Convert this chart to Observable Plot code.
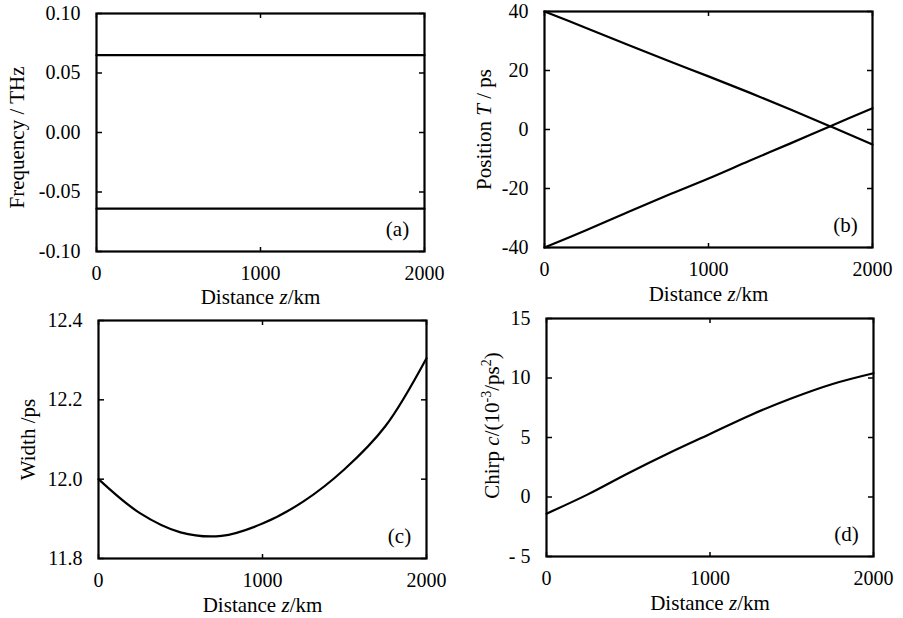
<!DOCTYPE html>
<html><head><meta charset="utf-8">
<script src="https://cdn.jsdelivr.net/npm/d3@7"></script>
<script src="https://cdn.jsdelivr.net/npm/@observablehq/plot@0.6"></script>
<style>
html,body{margin:0;padding:0;background:#fff;}
#chart{position:relative;width:903px;height:618px;overflow:hidden;background:#fff;}
#chart svg{position:absolute;left:0;top:0;}
#chart svg text{font-family:'Liberation Serif','Times New Roman',serif !important;font-variant-numeric:normal !important;}
</style></head><body><div id="chart"></div>
<script>
// ---- data ----
const distanceKm = [0, 250, 500, 750, 1000, 1250, 1500, 1750, 2000];
const frequencyUpper = [0.065, 0.065, 0.065, 0.065, 0.065, 0.065, 0.065, 0.065, 0.065];
const frequencyLower = [-0.064, -0.064, -0.064, -0.064, -0.064, -0.064, -0.064, -0.064, -0.064];
const positionUpper = [40, 34.5, 28.9, 23.4, 18.0, 12.5, 6.8, 0.9, -5.1];
const positionLower = [-40, -34.2, -28.2, -22.3, -16.6, -10.6, -4.7, 1.3, 7.2];
const widthPs = [12.0, 11.915, 11.866, 11.857, 11.888, 11.944, 12.025, 12.134, 12.305];
const chirpValues = [-1.4, 0.2, 2.0, 3.7, 5.3, 6.9, 8.3, 9.5, 10.4];

const distanceTicks = [0, 1000, 2000];
const distanceTickLabels = ["0", "1000", "2000"];
const frequencyTicks = [-0.10, -0.05, 0, 0.05, 0.10];
const frequencyTickLabels = ["-0.10", "-0.05", "0.00", "0.05", "0.10"];
const positionTicks = [-40, -20, 0, 20, 40];
const positionTickLabels = ["-40", "-20", "0", "20", "40"];
const widthTicks = [11.8, 12.0, 12.2, 12.4];
const widthTickLabels = ["11.8", "12.0", "12.2", "12.4"];
const chirpTicks = [-5, 0, 5, 10, 15];
const chirpTickLabels = ["- 5", "0", "5", "10", "15"];

const xLabel = "Distance z/km";
const panelLabels = ["(a)", "(b)", "(c)", "(d)"];
const yLabels = ["Frequency / THz", "Position T / ps", "Width /ps", "Chirp c/(10⁻³/ps²)"];

const richText = {
  "Distance z/km": 'Distance <tspan font-style="italic">z</tspan>/km',
  "Position T / ps": 'Position <tspan font-style="italic">T</tspan> / ps',
  "Chirp c/(10⁻³/ps²)": 'Chirp <tspan font-style="italic">c</tspan>/(10<tspan dy="-8" font-size="14">-3</tspan><tspan dy="8">/ps</tspan><tspan dy="-8" font-size="14">2</tspan><tspan dy="8">)</tspan>'
};

const W = 903, H = 618;
const SERIF = "'Liberation Serif', 'Times New Roman', serif";
const toRows = vals => distanceKm.map((z, i) => ({z, v: vals[i]}));

function panel({frame, yDomain, yTicks, yTickLabels, series, yLabel, yLabelOffset, yLabelShift, xLabelOffset, tag}) {
  const [x0, y0, x1, y1] = frame;
  const fmtY = d => yTickLabels[yTicks.indexOf(d)];
  const fmtX = d => distanceTickLabels[distanceTicks.indexOf(d)];
  const svg = Plot.plot({
    width: W, height: H,
    marginLeft: x0, marginRight: W - x1, marginTop: y0, marginBottom: H - y1,
    style: {background: "transparent", fontFamily: SERIF, fontSize: "21px", color: "black"},
    x: {domain: [0, 2000]},
    y: {domain: yDomain},
    marks: [
      ...series.map(s => Plot.line(toRows(s), {x: "z", y: "v", stroke: "black", strokeWidth: 2.2, curve: "catmull-rom"})),
      Plot.frame({stroke: "black", strokeWidth: 2.2}),
      Plot.axisY(yTicks, {anchor: "left", tickSize: 0, tickPadding: 16, tickFormat: fmtY, label: null, fontFamily: SERIF, fontSize: 20}),
      Plot.axisY(yTicks, {anchor: "right", frameAnchor: "left", tickSize: 5, strokeWidth: 1.5, fill: "none", label: null}),
      Plot.axisY(yTicks, {anchor: "left", frameAnchor: "right", tickSize: 5, strokeWidth: 1.5, fill: "none", label: null}),
      Plot.axisX(distanceTicks, {anchor: "bottom", tickSize: 0, tickPadding: 14, tickFormat: fmtX, label: null, fontFamily: SERIF, fontSize: 20}),
      Plot.axisX(distanceTicks, {anchor: "top", frameAnchor: "bottom", tickSize: 5, strokeWidth: 1.5, fill: "none", label: null}),
      Plot.axisX(distanceTicks, {anchor: "bottom", frameAnchor: "top", tickSize: 5, strokeWidth: 1.5, fill: "none", label: null}),
      Plot.text([yLabel], {text: d => d, frameAnchor: "left", rotate: -90, dx: -yLabelOffset, dy: yLabelShift, textAnchor: "middle", lineAnchor: "middle", fontFamily: SERIF, fontSize: 21}),
      Plot.text([xLabel], {text: d => d, frameAnchor: "bottom", dy: xLabelOffset, textAnchor: "middle", lineAnchor: "middle", fontFamily: SERIF, fontSize: 21}),
      Plot.text([tag], {text: d => d, frameAnchor: "bottom-right", dx: -27, dy: -22, textAnchor: "middle", lineAnchor: "middle", fontFamily: SERIF, fontSize: 21})
    ]
  });
  d3.select(svg).selectAll("text").each(function() {
    const t = this.textContent;
    if (richText[t]) this.innerHTML = richText[t];
  });
  return svg;
}

const chart = document.getElementById("chart");
chart.appendChild(panel({frame: [96, 13, 424, 251], yDomain: [-0.1, 0.1], yTicks: frequencyTicks, yTickLabels: frequencyTickLabels,
  series: [frequencyUpper, frequencyLower], yLabel: yLabels[0], yLabelOffset: 79, yLabelShift: 5, xLabelOffset: 46, tag: panelLabels[0]}));
chart.appendChild(panel({frame: [544, 11, 872, 247], yDomain: [-40, 40], yTicks: positionTicks, yTickLabels: positionTickLabels,
  series: [positionUpper, positionLower], yLabel: yLabels[1], yLabelOffset: 60, yLabelShift: 0, xLabelOffset: 47, tag: panelLabels[1]}));
chart.appendChild(panel({frame: [98, 320, 426, 558], yDomain: [11.8, 12.4], yTicks: widthTicks, yTickLabels: widthTickLabels,
  series: [widthPs], yLabel: yLabels[2], yLabelOffset: 70, yLabelShift: 0, xLabelOffset: 47, tag: panelLabels[2]}));
chart.appendChild(panel({frame: [546, 318, 873, 556], yDomain: [-5, 15], yTicks: chirpTicks, yTickLabels: chirpTickLabels,
  series: [chirpValues], yLabel: yLabels[3], yLabelOffset: 54, yLabelShift: -12, xLabelOffset: 47, tag: panelLabels[3]}));
</script>
</body></html>
